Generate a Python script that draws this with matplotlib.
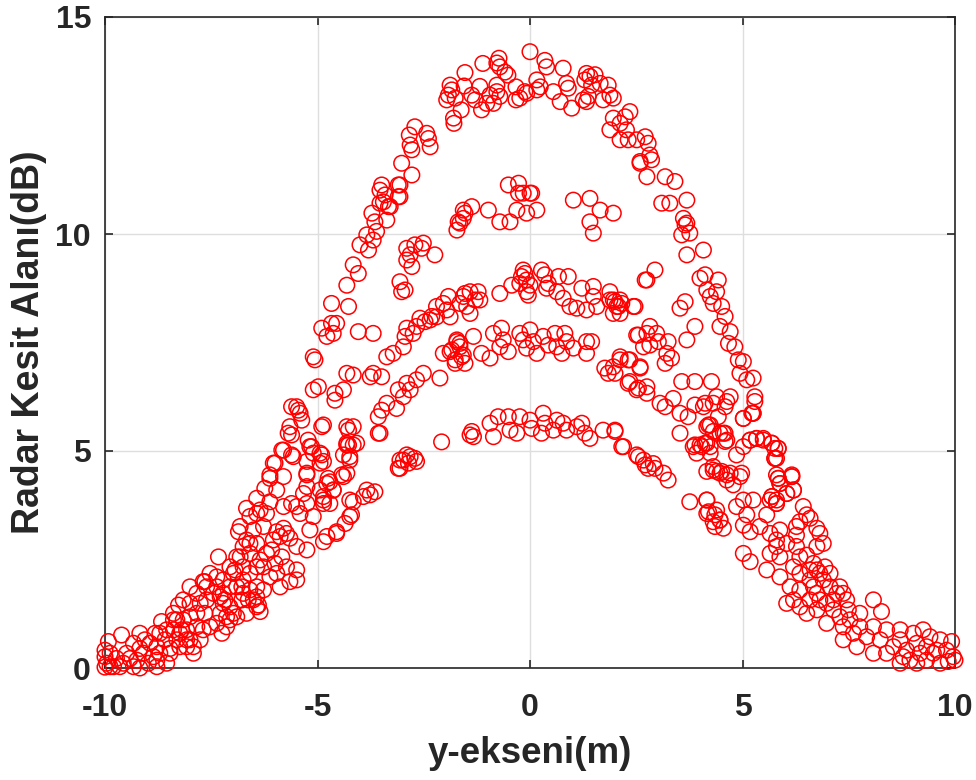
import matplotlib
matplotlib.use("Agg")
import matplotlib.pyplot as plt
import numpy as np

# ---------------- data ----------------
upper_left = [
    (-3.72, 10.48), (-3.65, 10.28), (-3.37, 10.32), (-3.33, 10.63), (-3.45, 10.74),
    (-3.41, 10.90), (-3.53, 11.01), (-3.49, 11.13), (-3.06, 11.13), (-3.06, 10.86),
    (-3.10, 11.13), (-3.10, 10.86), (-3.29, 10.63), (-3.53, 10.71), (-3.02, 11.63),
    (-2.78, 11.36), (-2.71, 12.47), (-2.84, 12.28), (-2.82, 12.05), (-2.78, 11.94),
    (-2.43, 12.32), (-2.39, 12.20), (-2.35, 12.01),
    (-4.00, 9.75), (-3.84, 9.98), (-3.61, 10.06), (-3.69, 9.86), (-3.80, 9.63),
    (-4.16, 9.29), (-4.04, 9.09), (-4.31, 8.82), (-4.67, 8.40), (-4.27, 8.33),
    (-4.90, 7.83), (-4.67, 7.94), (-4.55, 7.94), (-4.78, 7.64), (-4.63, 7.71),
    (-5.10, 7.17), (-5.06, 7.10), (-4.04, 7.75), (-3.69, 7.71),
]

upper_center = [
    (-1.88, 13.43), (-1.84, 13.32), (-1.92, 13.20), (-1.96, 13.09), (-1.76, 13.13),
    (-1.80, 12.67), (-1.79, 12.55), (-1.62, 12.86), (-1.55, 13.41), (-1.53, 13.72),
    (-1.37, 13.20), (-1.29, 13.09), (-1.18, 13.40), (-1.14, 12.86), (-1.11, 13.93),
    (-1.02, 13.01), (-0.94, 13.20), (-0.86, 13.01), (-0.78, 13.28), (-0.71, 13.17),
    (-0.78, 13.43), (-0.73, 14.05), (-0.78, 13.94), (-0.71, 13.85), (-0.59, 13.73),
    (-0.52, 13.66), (-0.33, 13.39), (-0.33, 13.09), (-0.08, 13.24), (0.16, 13.32),
    (0.16, 13.55), (0.00, 14.20), (-0.12, 13.28), (-0.24, 13.13), (0.24, 13.39),
    (0.35, 14.00), (0.39, 13.85), (0.55, 13.28), (0.78, 13.82), (0.86, 13.47),
    (0.90, 13.36), (0.71, 13.05), (0.98, 12.90),
    (1.33, 13.70), (1.41, 13.63), (1.53, 13.67), (1.29, 13.55), (1.45, 13.43),
    (1.65, 13.47), (1.84, 13.43), (1.88, 13.20), (1.96, 13.13), (1.72, 13.09),
    (1.37, 13.17), (1.25, 13.09), (1.33, 13.05),
]

upper_right = [
    (2.35, 12.82), (2.24, 12.70), (1.96, 12.67), (2.12, 12.55), (2.27, 12.40),
    (1.88, 12.40), (2.12, 12.17), (2.31, 12.17), (2.51, 12.17), (2.71, 12.24),
    (2.78, 12.09), (2.82, 11.82), (2.59, 11.67), (2.75, 11.32), (3.18, 11.32),
    (3.41, 11.21), (3.10, 10.71), (3.29, 10.71), (3.69, 10.78), (3.61, 10.36),
    (3.69, 10.25), (2.59, 11.63), (2.86, 11.71), (3.65, 10.21), (3.57, 9.98),
    (3.76, 10.02), (3.69, 9.52), (4.08, 9.63),
    (4.00, 8.98), (4.12, 9.06), (4.43, 8.94), (4.16, 8.71), (4.39, 8.67),
    (4.24, 8.56), (4.31, 8.40), (4.51, 8.33), (4.59, 8.10), (4.47, 7.87),
    (4.71, 7.75), (4.67, 7.48), (4.82, 7.40), (4.90, 7.10), (5.02, 7.06),
    (4.94, 6.79), (5.10, 6.64), (5.25, 6.68), (5.29, 6.25), (5.22, 5.87),
    (5.02, 5.75),
]

band_ten = [
    (-1.72, 10.09), (-1.65, 10.25), (-1.57, 10.36), (-1.53, 10.48), (-1.37, 10.63),
    (-1.57, 10.55), (-1.69, 10.28), (-0.98, 10.55), (-0.71, 10.28), (-0.47, 10.28),
    (-0.51, 11.13), (-0.27, 11.17), (-0.27, 10.94), (-0.16, 10.94), (0.00, 10.94),
    (-0.31, 10.55), (-0.08, 10.48), (0.16, 10.55), (0.04, 10.94), (1.02, 10.78),
    (1.41, 10.82), (1.65, 10.55), (1.96, 10.48), (1.41, 10.28), (1.49, 10.02),
    (-2.90, 9.67), (-2.71, 9.75), (-2.51, 9.79), (-2.55, 9.67), (-2.82, 9.52),
    (-2.90, 9.40), (-2.78, 9.25), (-2.24, 9.52), (-3.06, 8.90), (-3.02, 8.67),
    (-2.94, 8.71),
]

band_nine = [
    (-0.16, 9.17), (-0.12, 9.09), (-0.20, 9.02), (-0.08, 8.94), (-0.24, 8.86),
    (0.00, 8.82), (-0.08, 8.67), (-0.04, 8.59), (0.27, 9.17), (0.35, 9.06),
    (0.43, 8.86), (0.67, 9.02), (0.90, 9.02), (0.39, 8.75), (0.63, 8.67),
    (0.78, 8.52), (0.94, 8.33), (1.10, 8.29), (1.22, 8.75), (1.49, 8.79),
    (1.33, 8.25), (1.57, 8.33), (1.49, 8.56), (1.88, 8.67), (1.88, 8.48),
    (2.00, 8.44), (2.04, 8.33), (2.16, 8.40), (1.96, 8.17), (2.12, 8.17),
    (2.47, 8.33), (-0.43, 8.82), (-0.71, 8.63),
    (-2.35, 8.02), (-2.20, 8.09), (-1.96, 8.25), (-1.88, 8.09), (-1.92, 8.56),
    (-1.65, 8.40), (-1.53, 8.63), (-1.49, 8.33), (-1.41, 8.17), (-1.22, 8.67),
    (-1.18, 8.48), (-1.29, 8.48), (-1.41, 8.67), (-1.57, 8.56), (-2.04, 8.40),
    (-2.20, 8.33), (-2.31, 8.10), (-2.47, 7.98), (-2.59, 8.06), (-2.67, 7.87),
    (-2.90, 7.83), (-2.94, 7.64), (-2.75, 7.71), (-3.22, 7.25), (-3.37, 7.17),
    (-2.98, 7.40),
]

band_seven = [
    (-2.04, 7.25), (-1.84, 7.33), (-1.72, 7.52), (-1.65, 7.40), (-1.61, 7.17),
    (-1.76, 7.02), (-1.53, 7.02), (-1.33, 7.64), (-1.14, 7.25), (-0.94, 7.14),
    (-0.86, 7.71), (-0.67, 7.83), (-0.63, 7.56), (-0.71, 7.40), (-0.51, 7.29),
    (-0.24, 7.71), (-0.16, 7.56), (0.00, 7.79), (0.08, 7.52), (-0.08, 7.37),
    (0.16, 7.25), (0.31, 7.64), (0.43, 7.44), (0.59, 7.71), (0.63, 7.40),
    (0.75, 7.25), (0.82, 7.71), (0.86, 7.52), (1.02, 7.37), (1.33, 7.52),
    (1.45, 7.52), (1.33, 7.25), (-2.12, 6.68),
    (-1.72, 7.56), (-1.88, 7.29), (-1.76, 7.10), (-1.65, 7.48), (-1.57, 7.21),
    (-2.51, 6.79), (-2.67, 6.64), (-2.90, 6.56), (-2.82, 6.41), (-3.10, 6.41),
    (-2.98, 6.25), (-3.37, 6.10), (-3.49, 5.94), (-3.57, 5.79), (-3.14, 5.98),
    (-3.57, 5.41), (-3.53, 5.41),
]

band_five = [
    (-2.08, 5.21), (-1.37, 5.45), (-1.33, 5.33), (-0.94, 5.64), (-0.86, 5.33),
    (-0.75, 5.79), (-0.51, 5.79), (-0.47, 5.48), (-0.31, 5.41), (-0.24, 5.79),
    (0.00, 5.71), (0.04, 5.52), (0.31, 5.87), (0.35, 5.64), (0.27, 5.41),
    (0.55, 5.48), (0.63, 5.71), (0.78, 5.64), (0.86, 5.48), (1.10, 5.56),
    (1.22, 5.64), (1.29, 5.41), (1.41, 5.29), (1.72, 5.48), (2.00, 5.48),
    (2.16, 5.10), (2.51, 4.91), (2.67, 4.79), (2.78, 4.60), (-1.41, 5.37),
    (2.00, 5.45), (2.20, 5.10), (2.55, 4.87), (2.90, 4.71), (2.94, 4.60),
    (3.14, 4.49), (3.25, 4.33), (2.71, 4.68),
]

mid_right = [
    (1.96, 8.48), (2.12, 8.48), (2.08, 8.33), (2.43, 8.33), (2.94, 9.17),
    (2.75, 8.94), (2.71, 8.94), (3.65, 8.44), (3.53, 8.29), (3.88, 7.87),
    (3.69, 7.56), (2.55, 7.67), (2.82, 7.87), (2.98, 7.71), (2.82, 7.44),
    (3.02, 7.52), (3.25, 7.52), (3.22, 7.25), (3.18, 7.02), (3.33, 7.14),
    (2.12, 7.10), (2.31, 7.10), (1.96, 6.94), (2.00, 6.79), (2.59, 6.91),
    (1.76, 6.91), (1.84, 6.79), (2.12, 7.17), (2.35, 7.10), (2.59, 6.94),
    (2.67, 7.40), (2.75, 7.71), (2.51, 7.67), (2.31, 6.56), (2.51, 6.41),
    (2.75, 6.33), (2.35, 6.60), (2.55, 6.45), (2.75, 6.48), (3.06, 6.10),
    (3.18, 6.02), (3.37, 6.21), (3.57, 6.60), (3.88, 6.60), (4.27, 6.60),
    (3.53, 5.87), (3.72, 5.79), (3.88, 6.06), (4.12, 6.10), (4.39, 6.25),
    (4.59, 6.02), (4.71, 6.25),
    (5.02, 5.10), (5.18, 5.25), (5.49, 5.25), (5.76, 5.06), (5.80, 4.83),
    (4.86, 4.91), (4.31, 4.56), (4.51, 4.53), (4.71, 4.49), (4.98, 4.49),
    (5.80, 4.45), (6.16, 4.45), (4.24, 5.60), (4.43, 5.79), (4.59, 5.41),
    (4.63, 5.25), (3.53, 5.41), (3.88, 5.14), (4.04, 5.10), (4.24, 5.10),
    (3.76, 3.83), (4.16, 3.87), (4.20, 3.60), (4.35, 3.53), (4.47, 3.41),
    (4.31, 3.37), (3.84, 5.10), (4.00, 5.14), (4.16, 5.18), (3.92, 4.95),
    (4.31, 4.64), (4.47, 4.49), (4.63, 4.33), (4.16, 5.56), (4.47, 5.41),
    (5.25, 5.87), (5.29, 6.14), (5.33, 5.29), (5.69, 5.18), (5.84, 5.06),
    (5.76, 4.83), (5.84, 4.37), (5.88, 4.25), (6.16, 4.41), (6.20, 4.10),
    (6.04, 4.02), (5.69, 3.95), (5.80, 3.79), (4.08, 6.02), (4.31, 6.10),
    (4.63, 6.14), (4.20, 5.60), (4.31, 5.45), (4.55, 5.41), (4.59, 5.22),
    (4.12, 5.18), (4.24, 4.95), (4.16, 4.53), (4.39, 4.53), (4.63, 4.45),
    (4.78, 4.22), (4.94, 4.41),
]

mid_left = [
    (-4.31, 6.79), (-4.16, 6.75), (-3.76, 6.71), (-3.69, 6.79), (-3.49, 6.71),
    (-4.59, 6.33), (-4.39, 6.41), (-5.10, 6.41), (-4.98, 6.48), (-4.59, 6.17),
    (-5.49, 6.02), (-5.41, 5.87), (-5.37, 5.71), (-5.65, 5.56), (-5.61, 5.37),
    (-5.22, 5.25), (-5.18, 5.10), (-4.90, 5.56), (-5.10, 4.95), (-4.90, 4.91),
    (-5.80, 5.02), (-6.00, 4.72), (-6.12, 4.45), (-5.25, 4.49), (-5.57, 4.87),
    (-4.94, 4.72), (-4.31, 5.56), (-4.16, 5.56), (-4.27, 5.14), (-4.08, 5.18),
    (-4.24, 4.87), (-4.75, 4.37), (-4.43, 4.45), (-2.98, 4.79), (-2.82, 4.87),
    (-3.10, 4.60), (-2.67, 4.76), (-3.06, 4.79), (-2.90, 4.91), (-2.71, 4.83),
    (-3.06, 4.60), (-2.86, 4.72), (-4.39, 4.41), (-4.24, 4.79), (-4.16, 5.14),
    (-4.31, 5.14), (-3.84, 4.10), (-3.65, 4.06), (-3.92, 3.95), (-3.76, 3.99),
    (-4.16, 3.83), (-4.20, 3.53), (-4.35, 3.33), (-4.55, 3.14), (-4.78, 3.03),
    (-4.78, 4.25), (-4.63, 4.10), (-4.86, 3.95), (-4.86, 3.79),
    (-5.61, 6.02), (-5.45, 5.94), (-5.69, 5.41), (-5.14, 5.10), (-5.84, 5.02),
    (-5.61, 4.91), (-4.94, 4.95), (-4.86, 4.76), (-6.04, 4.72), (-5.25, 4.76),
    (-4.86, 5.60), (-4.27, 5.48), (-4.31, 5.18), (-4.39, 4.91), (-4.31, 4.49),
    (-4.71, 4.29), (-4.63, 4.10), (-4.94, 4.10), (-5.33, 4.02), (-5.25, 3.79),
    (-5.49, 3.72), (-5.41, 3.56), (-5.61, 3.79), (-5.80, 3.72), (-4.86, 3.87),
    (-4.71, 3.79), (-5.10, 3.49), (-5.18, 3.18), (-4.86, 2.91), (-4.55, 3.10),
    (-4.24, 3.49), (-4.24, 3.87), (-5.96, 4.10), (-5.80, 4.41),
]

low_left = [
    (-6.12, 4.37), (-5.25, 4.45), (-6.24, 4.14), (-5.25, 4.18), (-6.43, 3.91),
    (-6.12, 3.83), (-6.67, 3.68), (-6.35, 3.64), (-6.59, 3.49), (-6.82, 3.26),
    (-6.86, 3.14), (-6.67, 2.95), (-6.59, 2.87), (-7.33, 2.56), (-6.90, 2.56),
    (-6.94, 2.26), (-7.53, 2.18), (-7.65, 1.99), (-7.37, 1.87), (-7.22, 1.72),
    (-7.18, 1.57), (-6.90, 1.87), (-6.75, 1.72), (-6.63, 1.57), (-6.43, 1.41),
    (-6.35, 1.30), (-8.27, 1.45), (-8.00, 1.18), (-8.39, 1.11), (-8.67, 1.07),
    (-8.55, 0.88), (-8.82, 0.80), (-9.06, 0.65), (-9.18, 0.45), (-9.61, 0.76),
    (-9.92, 0.61), (-10.00, 0.41), (-9.96, 0.11), (-10.00, 0.02), (-9.73, 0.22),
    (-9.41, 0.22), (-9.33, 0.03), (-8.98, 0.11), (-8.78, 0.03), (-8.71, 0.34),
    (-8.47, 0.34), (-8.24, 0.80), (-8.08, 0.88), (-8.00, 0.65), (-8.24, 0.49),
    (-7.92, 0.34), (-7.69, 0.88), (-7.53, 0.95), (-7.37, 1.03), (-7.25, 0.80),
    (-7.14, 0.95), (-7.06, 1.11), (-6.98, 1.26),
    (-5.80, 3.22), (-5.96, 3.14), (-5.73, 3.10), (-5.88, 3.03), (-5.65, 2.99),
    (-6.04, 2.95), (-6.08, 2.72), (-5.49, 2.80), (-5.25, 2.72), (-6.20, 2.64),
    (-5.84, 2.56), (-6.00, 2.41), (-5.73, 2.33), (-5.49, 2.26), (-6.27, 2.33),
    (-5.96, 2.18), (-6.12, 2.10), (-5.88, 1.87), (-5.65, 1.99), (-5.49, 2.03),
    (-7.69, 1.99), (-7.61, 1.87), (-7.45, 1.72), (-7.29, 1.64), (-7.22, 1.49),
    (-7.06, 1.41), (-7.29, 1.26), (-7.14, 1.18), (-6.90, 1.18), (-6.78, 1.57),
    (-6.67, 1.26), (-6.39, 1.45), (-6.43, 1.64), (-6.59, 1.80), (-6.78, 1.87),
    (-7.76, 1.49), (-7.65, 1.26), (-8.39, 1.26), (-8.31, 1.11), (-8.20, 0.88),
    (-8.08, 0.65), (-7.92, 0.49), (-8.59, 0.65), (-8.47, 0.45), (-8.78, 0.49),
    (-8.86, 0.26), (-8.55, 0.11), (-9.57, 0.11), (-9.80, 0.03), (-9.18, 0.00),
    (-10.00, 0.26), (-9.88, 0.34), (-9.65, 0.03), (-9.49, 0.34), (-9.25, 0.18),
    (-9.10, 0.34), (-8.94, 0.57), (-8.78, 0.18), (-9.88, 0.03), (-9.33, 0.57),
    (-9.18, 0.80), (-8.71, 0.80), (-8.39, 0.88), (-8.31, 0.65), (-8.16, 1.11),
    (-7.84, 0.95), (-7.84, 1.26), (-8.00, 1.49), (-8.08, 0.49), (-7.76, 0.65),
    (-8.16, 1.57), (-7.84, 1.72), (-8.00, 1.87), (-7.61, 1.57), (-7.37, 2.10),
    (-7.22, 2.03), (-7.06, 1.87), (-6.98, 2.18), (-6.75, 2.03), (-6.51, 1.57),
    (-6.27, 1.80), (-6.43, 1.87), (-6.59, 2.18), (-6.43, 2.33), (-6.75, 2.33),
    (-7.06, 2.33), (-6.82, 2.56), (-6.59, 2.64), (-6.35, 2.49), (-6.75, 2.80),
    (-6.43, 2.87), (-6.51, 3.18), (-6.27, 3.26), (-6.20, 3.56), (-6.43, 3.56),
]

low_right = [
    (5.02, 5.75), (5.25, 5.87), (5.18, 5.25), (5.33, 5.29), (5.49, 5.29),
    (5.69, 5.18), (5.84, 5.06), (5.76, 4.83), (5.84, 4.37), (5.88, 4.25),
    (6.16, 4.41), (6.20, 4.10), (6.04, 4.02), (5.69, 3.95), (5.80, 3.79),
    (6.43, 3.72), (6.51, 3.53), (6.35, 3.37), (6.59, 3.45), (6.27, 3.26),
    (6.75, 3.22), (6.82, 3.10), (6.90, 2.87), (6.75, 2.80), (6.27, 3.06),
    (6.51, 2.60), (6.67, 2.41), (6.94, 2.33), (7.06, 2.18), (7.29, 1.87),
    (7.37, 1.72), (7.14, 1.57), (7.45, 1.57), (6.98, 1.49), (7.49, 1.34),
    (7.76, 1.26), (8.08, 1.57), (8.27, 1.30), (7.53, 1.11), (7.76, 0.95),
    (8.08, 0.95), (8.39, 0.88), (8.71, 0.88), (8.71, 0.65), (9.02, 0.80),
    (9.25, 0.88), (9.41, 0.72), (9.65, 0.65), (9.92, 0.61), (9.96, 0.26),
    (9.84, 0.15), (9.49, 0.34), (9.18, 0.34), (8.94, 0.18), (8.71, 0.11),
    (8.39, 0.34), (8.08, 0.34), (7.69, 0.49), (7.37, 0.65),
    (4.16, 3.87), (4.16, 3.56), (4.39, 3.64), (4.47, 3.41), (4.55, 3.22),
    (4.35, 3.26), (4.86, 3.72), (5.02, 3.87), (5.25, 3.87), (5.10, 3.53),
    (5.02, 3.29), (5.18, 3.14), (5.41, 3.26), (5.57, 3.53), (5.65, 3.87),
    (5.80, 3.87), (5.88, 3.18), (5.80, 2.80), (5.65, 2.64), (5.02, 2.64),
    (5.18, 2.45), (5.57, 2.26), (5.88, 2.10), (6.12, 1.87), (6.04, 1.49),
    (6.20, 1.57), (6.35, 1.80), (6.59, 2.03), (6.75, 2.26), (6.59, 1.57),
    (6.75, 1.34), (6.98, 1.03), (6.35, 1.41), (6.51, 1.26),
    (8.55, 0.49), (8.86, 0.41), (9.10, 0.57), (9.33, 0.49), (9.57, 0.41),
    (9.80, 0.41), (10.00, 0.18), (9.33, 0.18), (9.10, 0.11), (9.65, 0.11),
    (8.78, 0.26), (8.24, 0.65), (7.92, 0.72), (7.61, 0.80), (7.37, 0.95),
    (7.29, 1.18), (7.14, 1.34), (6.82, 1.57), (6.67, 1.87), (6.75, 1.72),
    (7.06, 1.87), (7.22, 1.72), (6.90, 2.03), (6.82, 2.18), (6.59, 2.26),
    (6.35, 2.18), (6.20, 2.33), (6.35, 2.56), (6.27, 2.80), (6.04, 2.87),
    (5.88, 2.56), (5.80, 2.95), (5.65, 3.10),
]

groups = [upper_left, upper_center, upper_right, band_ten, band_nine,
          band_seven, band_five, mid_right, mid_left, low_left, low_right]

x_ticks = [-10, -5, 0, 5, 10]
y_ticks = [0, 5, 10, 15]
x_label = "y-ekseni(m)"
y_label = "Radar Kesit Alanı(dB)"

# ---------------- figure ----------------
plt.rcParams['font.family'] = ['Liberation Sans', 'DejaVu Sans']
plt.rcParams['font.weight'] = 'bold'
plt.rcParams['axes.unicode_minus'] = False

fig = plt.figure(figsize=(9.76, 7.8), dpi=100)
ax = fig.add_axes([105/976, 112/780, 850/976, 651/780])

pts = np.array([p for g in groups for p in g])
ax.scatter(pts[:, 0], pts[:, 1], s=125, facecolors='none', edgecolors='#ff0000',
           linewidths=1.1, clip_on=False, zorder=3)

ax.set_xlim(-10, 10)
ax.set_ylim(0, 15)
ax.set_xticks(x_ticks)
ax.set_yticks(y_ticks)
ax.grid(True, color='#dedede', linewidth=1.0, zorder=0)
ax.set_axisbelow(True)

dark = '#262626'
for sp in ax.spines.values():
    sp.set_color(dark)
    sp.set_linewidth(1.2)
ax.tick_params(direction='in', length=6, width=1.2, colors=dark,
               labelsize=23, top=True, right=True)
ax.tick_params(axis='x', pad=18)
ax.tick_params(axis='y', pad=10)
for lab in ax.get_xticklabels() + ax.get_yticklabels():
    lab.set_fontweight('bold')

ax.set_xlabel(x_label, fontsize=26.5, fontweight='bold', color=dark)
ax.set_ylabel(y_label, fontsize=27, fontweight='bold', color=dark)
ax.xaxis.set_label_coords(0.5, -0.104)
ax.yaxis.set_label_coords(-0.068, 0.5)

fig.savefig("out.png", dpi=100)
